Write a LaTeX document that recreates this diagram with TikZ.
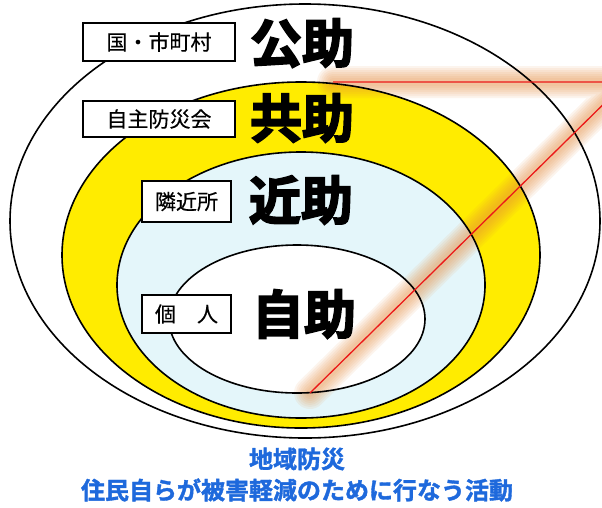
\documentclass[tikz,border=0pt]{standalone}
\usepackage{fontspec}
\newfontfamily\jp{Noto Sans CJK JP}[FakeBold=0.4]
\newfontfamily\jpb{Noto Sans CJK JP}[BoldFont=* Bold, BoldFeatures={FakeBold=3.5}]
\newfontfamily\jpm{Noto Sans CJK JP}[BoldFont=* Bold, BoldFeatures={FakeBold=1.5}]
\definecolor{ringyellow}{RGB}{255,236,0}
\definecolor{ringblue}{RGB}{228,246,250}
\definecolor{glowcol}{RGB}{232,140,60}
\definecolor{redline}{RGB}{235,25,25}
\definecolor{textblue}{RGB}{30,105,220}
\tikzset{
  ring/.style={draw=black,line width=1.6pt},
  labelbox/.style={draw=black,line width=1.3pt,fill=white,inner sep=0pt,
    font=\jp\fontsize{21}{21}\selectfont},
  biglabel/.style={inner sep=0pt,font=\jpb\bfseries\fontsize{52}{52}\selectfont},
  bluetext/.style={inner sep=0pt,text=textblue,font=\jpm\bfseries\fontsize{24}{24}\selectfont},
  glowline/.style={draw=glowcol,line cap=round,line join=round,opacity=0.09},
}
\begin{document}
\begin{tikzpicture}[x=1pt,y=-1pt]
\useasboundingbox (0,0) rectangle (602,507);
\fill[white] (0,0) rectangle (602,507);
\begin{scope}
\clip (0,0) rectangle (602,507);
% fills
\fill[white] (305,221) ellipse [x radius=295, y radius=217];
\fill[ringyellow] (301,255) ellipse [x radius=239, y radius=173];
\fill[ringblue] (301,285) ellipse [x radius=184, y radius=133];
\fill[white] (297,319) ellipse [x radius=128, y radius=74];
% glow and red line
\coordinate (rA) at (333,82);
\coordinate (rV) at (626,82);
\coordinate (rB) at (310,393);
\foreach \w in {32,28,24,20,16,12,8}{
  \draw[glowline,line width=\w pt] (rA) -- (rV) -- (rB);
}
% outlines
\draw[ring] (305,221) ellipse [x radius=295, y radius=217];
\draw[ring] (301,255) ellipse [x radius=239, y radius=173];
\draw[ring] (301,285) ellipse [x radius=184, y radius=133];
\draw[ring] (297,319) ellipse [x radius=128, y radius=74];
\draw[redline,line width=1.3pt] (rA) -- (rV) -- (rB);
\end{scope}
% label boxes
\node[labelbox,minimum width=152pt,minimum height=38pt] (kuni) at (159,42) {国・市町村};
\node[labelbox,minimum width=152pt,minimum height=36pt] (jishu) at (159,119) {自主防災会};
\node[labelbox,minimum width=89pt,minimum height=41pt] (rinkin) at (186.5,201.5) {隣近所};
\node[labelbox,minimum width=89pt,minimum height=38pt] (kojin) at (186.5,314) {個　人};
% big labels
\node[biglabel] (kojo) at (302,43) {公助};
\node[biglabel] (kyojo) at (302,118) {共助};
\node[biglabel] (kinjo) at (301,200) {近助};
\node[biglabel] (jijo) at (304,314) {自助};
% caption
\node[bluetext] (cap1) at (297,459) {地域防災};
\node[bluetext] (cap2) at (297,490) {住民自らが被害軽減のために行なう活動};
\end{tikzpicture}
\end{document}
